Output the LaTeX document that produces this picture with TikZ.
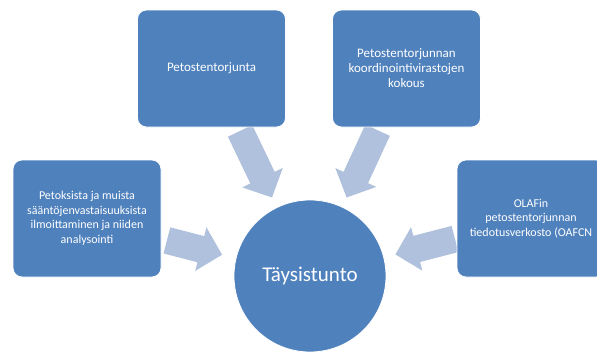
\documentclass[tikz,border=0pt]{standalone}
\usepackage{fontspec}
\setmainfont{Carlito}
\usetikzlibrary{calc}
\definecolor{boxblue}{RGB}{79,129,189}
\definecolor{arrowblue}{RGB}{176,193,221}
\newcommand\blockarrow[3]{%
  \coordinate (#1h) at ($(#3)!22pt!(#2)$);
  \fill[blockarr] ($(#2)!13.5pt!90:(#3)$) -- ($(#1h)!13.5pt!90:(#3)$) -- ($(#1h)!22.5pt!90:(#3)$) -- (#3) -- ($(#1h)!22.5pt!-90:(#3)$) -- ($(#1h)!13.5pt!-90:(#3)$) -- ($(#2)!13.5pt!-90:(#3)$) -- cycle;
}
\begin{document}
\begin{tikzpicture}[x=1pt,y=-1pt,
  box/.style={draw=white, line width=0.8pt, fill=boxblue, rounded corners=9pt, text=white, align=center, inner sep=0pt, minimum width=148pt, minimum height=117pt},
  hub/.style={circle, fill=boxblue, draw=white, line width=0.8pt, text=white, minimum size=152pt, inner sep=0pt, font=\fontsize{21}{25}\selectfont},
  blockarr/.style={fill=arrowblue}]
\useasboundingbox (0,0) rectangle (597,351);
\clip (0,0) rectangle (597,351);
% arrow end points
\coordinate (t1) at (240.1,130.9); \coordinate (p1) at (272,197.5);
\coordinate (t2) at (377.6,130.2); \coordinate (p2) at (346.6,197.5);
\coordinate (t3) at (166.9,240.4); \coordinate (p3) at (222.1,254.7);
\coordinate (t4) at (455,239);     \coordinate (p4) at (395.4,254.4);
\blockarrow{a1}{t1}{p1}
\blockarrow{a2}{t2}{p2}
\blockarrow{a3}{t3}{p3}
\blockarrow{a4}{t4}{p4}
% boxes
\node[box, font=\fontsize{13}{15}\selectfont] (b1) at (211.5,68.5) {Petostentorjunta};
\node[box, font=\fontsize{13}{15}\selectfont] (b2) at (406.5,68.5) {Petostentorjunnan\\koordinointivirastojen\\kokous};
\node[box, font=\fontsize{12}{14.5}\selectfont] (b3) at (87,218.5) {Petoksista ja muista\\sääntöjenvastaisuuksista\\ilmoittaminen ja niiden\\analysointi};
\node[box, font=\fontsize{12}{14.5}\selectfont] (b4) at (531,218.5) {OLAFin\\petostentorjunnan\\tiedotusverkosto (OAFCN};
\node[hub] (c) at (310,276) {Täysistunto};
\end{tikzpicture}
\end{document}
